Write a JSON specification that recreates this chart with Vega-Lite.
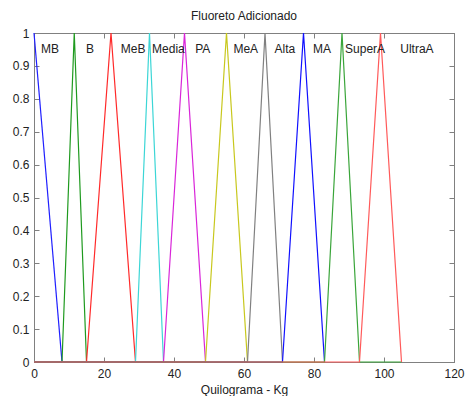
{
  "$schema": "https://vega.github.io/schema/vega-lite/v6.json",
  "autosize": "none",
  "width": 420,
  "height": 329,
  "padding": {"left": 34, "top": 33, "right": 11, "bottom": 34},
  "background": "white",
  "title": {"text": "Fluoreto Adicionado", "font": "Liberation Sans", "fontSize": 12, "fontWeight": "normal", "color": "#222", "offset": 4},
  "config": {
    "view": {"stroke": "#808080", "strokeWidth": 1},
    "axis": {"grid": false, "domainColor": "#808080", "tickColor": "#808080", "tickSize": -5, "labelFont": "Liberation Sans", "labelFontSize": 12, "labelColor": "#222", "titleFont": "Liberation Sans", "titleFontSize": 12, "titleFontWeight": "normal", "titleColor": "#222"}
  },
  "datasets": {
    "mf": [
      {"s": "MB", "x": 0, "y": 1}, {"s": "MB", "x": 8, "y": 0},
      {"s": "B", "x": 0, "y": 0}, {"s": "B", "x": 8, "y": 0}, {"s": "B", "x": 11.5, "y": 1}, {"s": "B", "x": 15, "y": 0},
      {"s": "MeB", "x": 0, "y": 0}, {"s": "MeB", "x": 15, "y": 0}, {"s": "MeB", "x": 22, "y": 1}, {"s": "MeB", "x": 29, "y": 0},
      {"s": "Media", "x": 0, "y": 0}, {"s": "Media", "x": 29, "y": 0}, {"s": "Media", "x": 33, "y": 1}, {"s": "Media", "x": 37, "y": 0},
      {"s": "PA", "x": 0, "y": 0}, {"s": "PA", "x": 37, "y": 0}, {"s": "PA", "x": 43, "y": 1}, {"s": "PA", "x": 49, "y": 0},
      {"s": "MeA", "x": 0, "y": 0}, {"s": "MeA", "x": 49, "y": 0}, {"s": "MeA", "x": 55, "y": 1}, {"s": "MeA", "x": 61, "y": 0},
      {"s": "Alta", "x": 0, "y": 0}, {"s": "Alta", "x": 61, "y": 0}, {"s": "Alta", "x": 66, "y": 1}, {"s": "Alta", "x": 71, "y": 0},
      {"s": "MA", "x": 0, "y": 0}, {"s": "MA", "x": 71, "y": 0}, {"s": "MA", "x": 77, "y": 1}, {"s": "MA", "x": 83, "y": 0},
      {"s": "SuperA", "x": 0, "y": 0}, {"s": "SuperA", "x": 83, "y": 0}, {"s": "SuperA", "x": 88, "y": 1}, {"s": "SuperA", "x": 93, "y": 0}, {"s": "SuperA", "x": 105, "y": 0},
      {"s": "UltraA", "x": 0, "y": 0}, {"s": "UltraA", "x": 93, "y": 0}, {"s": "UltraA", "x": 99, "y": 1}, {"s": "UltraA", "x": 105, "y": 0}
    ],
    "labels": [
      {"s": "MB", "x": 4.6, "y": 0.952},
      {"s": "B", "x": 16, "y": 0.952},
      {"s": "MeB", "x": 28.3, "y": 0.952},
      {"s": "Media", "x": 38.4, "y": 0.952},
      {"s": "PA", "x": 48.2, "y": 0.952},
      {"s": "MeA", "x": 60.5, "y": 0.952},
      {"s": "Alta", "x": 71.7, "y": 0.952},
      {"s": "MA", "x": 82.3, "y": 0.952},
      {"s": "SuperA", "x": 94.6, "y": 0.952},
      {"s": "UltraA", "x": 109.4, "y": 0.952}
    ]
  },
  "layer": [
    {
      "data": {"name": "mf"},
      "mark": {"type": "line", "strokeWidth": 1.2},
      "encoding": {
        "x": {"field": "x", "type": "quantitative", "scale": {"domain": [0, 120], "nice": false}, "axis": {"values": [0, 20, 40, 60, 80, 100, 120], "title": "Quilograma - Kg", "titlePadding": 5, "labelPadding": 11, "labelFlush": false}},
        "y": {"field": "y", "type": "quantitative", "scale": {"domain": [0, 1], "nice": false}, "axis": {"values": [0, 0.1, 0.2, 0.3, 0.4, 0.5, 0.6, 0.7, 0.8, 0.9, 1], "format": ".1~f", "title": null, "labelPadding": 10, "labelFlush": false}},
        "color": {"field": "s", "type": "nominal", "legend": null, "sort": null,
          "scale": {"domain": ["MB", "B", "MeB", "Media", "PA", "MeA", "Alta", "MA", "SuperA", "UltraA"],
                    "range": ["#1f1fff", "#1f9a1f", "#ff2a2a", "#3cd6d6", "#d925d9", "#c8c81e", "#808080", "#1010ff", "#3aa53a", "#ff5a5a"]}}
      }
    },
    {
      "data": {"name": "labels"},
      "mark": {"type": "text", "font": "Liberation Sans", "fontSize": 12, "color": "#222", "align": "center", "baseline": "middle"},
      "encoding": {
        "x": {"field": "x", "type": "quantitative", "axis": {"orient": "top", "values": [0, 20, 40, 60, 80, 100, 120], "labels": false, "title": null}},
        "y": {"field": "y", "type": "quantitative", "axis": {"orient": "right", "values": [0, 0.1, 0.2, 0.3, 0.4, 0.5, 0.6, 0.7, 0.8, 0.9, 1], "labels": false, "title": null}},
        "text": {"field": "s"}
      }
    }
  ],
  "resolve": {"axis": {"x": "independent", "y": "independent"}}
}
